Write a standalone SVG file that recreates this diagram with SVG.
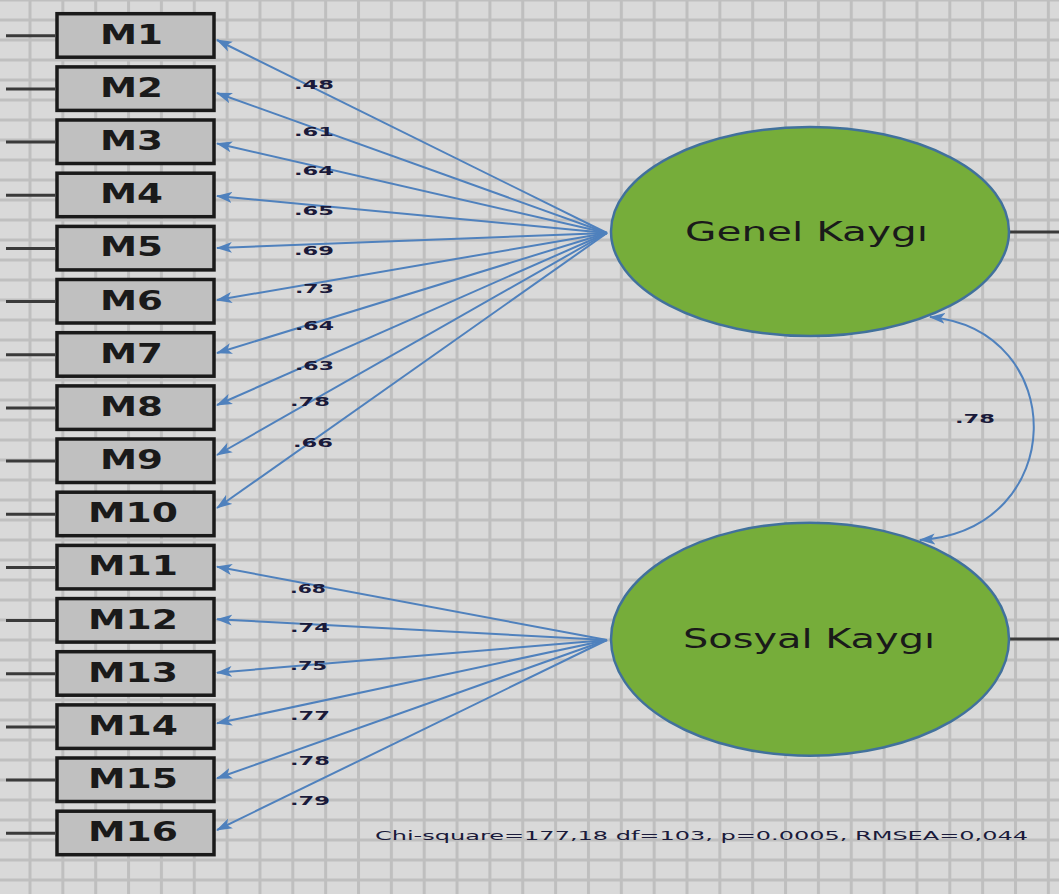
<svg xmlns="http://www.w3.org/2000/svg" width="1059" height="894" viewBox="0 0 1059 894">
<defs>
<pattern id="grid" patternUnits="userSpaceOnUse" x="28.5" y="-1.5" width="32.85" height="20">
<rect width="32.85" height="20" fill="#d9d9d9"/>
<rect width="3" height="20" fill="#bfbfbf"/>
<rect width="32.85" height="3" fill="#bfbfbf"/>
</pattern>
<marker id="ah" markerUnits="userSpaceOnUse" markerWidth="16" markerHeight="12" viewBox="0 0 16 12" refX="15" refY="6" orient="auto-start-reverse">
<path d="M16,6 L0,0.5 L4,6 L0,11.5 z" fill="#4f81bd"/>
</marker>
<style>
.box{fill:#c0c0c0;stroke:#1a1a1a;stroke-width:3.5}
.bt{font-family:"DejaVu Sans","Liberation Sans",sans-serif;font-size:26px;fill:#1a1a1a;}
.bb{font-weight:bold}
.stub{stroke:#3a3a3a;stroke-width:3}
.lat{fill:#76ad3a;stroke:#41719c;stroke-width:2.5}
.ln{stroke:#4f81bd;stroke-width:2;fill:none;marker-end:url(#ah)}
.lb{font-family:"DejaVu Sans","Liberation Sans",sans-serif;font-size:13px;font-weight:bold;fill:#1a1a3a}
.ft{font-family:"DejaVu Sans","Liberation Sans",sans-serif;font-size:13px;fill:#1a1a3a}
</style>
</defs>
<rect x="0" y="0" width="1059" height="894" fill="url(#grid)"/>

<g id="connectors">
<path class="ln" d="M607,233 L217,40"/>
<path class="ln" d="M607,233 L217,93"/>
<path class="ln" d="M607,233 L217,143.5"/>
<path class="ln" d="M607,233 L217,196"/>
<path class="ln" d="M607,233 L217,248"/>
<path class="ln" d="M607,233 L217,300"/>
<path class="ln" d="M607,233 L217,353"/>
<path class="ln" d="M607,233 L217,405"/>
<path class="ln" d="M607,233 L217,455"/>
<path class="ln" d="M607,233 L217,508"/>
<path class="ln" d="M607,640 L217,566.7"/>
<path class="ln" d="M607,640 L217,619.3"/>
<path class="ln" d="M607,640 L217,672.7"/>
<path class="ln" d="M607,640 L217,723.3"/>
<path class="ln" d="M607,640 L217,778.3"/>
<path class="ln" d="M607,640 L217,830"/>
<path class="ln" d="M930,317 C1070,330 1070,530 920,540" marker-start="url(#ah)"/>
<g class="lb">
<text x="294" y="89" textLength="40" lengthAdjust="spacingAndGlyphs">.48</text>
<text x="294" y="136" textLength="40" lengthAdjust="spacingAndGlyphs">.61</text>
<text x="294" y="175" textLength="40" lengthAdjust="spacingAndGlyphs">.64</text>
<text x="294" y="215" textLength="40" lengthAdjust="spacingAndGlyphs">.65</text>
<text x="294" y="255" textLength="40" lengthAdjust="spacingAndGlyphs">.69</text>
<text x="295" y="293" textLength="39" lengthAdjust="spacingAndGlyphs">.73</text>
<text x="295" y="330" textLength="39" lengthAdjust="spacingAndGlyphs">.64</text>
<text x="295" y="370" textLength="39" lengthAdjust="spacingAndGlyphs">.63</text>
<text x="290" y="406" textLength="40" lengthAdjust="spacingAndGlyphs">.78</text>
<text x="293" y="447" textLength="40" lengthAdjust="spacingAndGlyphs">.66</text>
<text x="290" y="593" textLength="36" lengthAdjust="spacingAndGlyphs">.68</text>
<text x="290" y="632" textLength="40" lengthAdjust="spacingAndGlyphs">.74</text>
<text x="290" y="670" textLength="37" lengthAdjust="spacingAndGlyphs">.75</text>
<text x="290" y="720" textLength="40" lengthAdjust="spacingAndGlyphs">.77</text>
<text x="290" y="765" textLength="40" lengthAdjust="spacingAndGlyphs">.78</text>
<text x="290" y="805" textLength="40" lengthAdjust="spacingAndGlyphs">.79</text>
<text x="955" y="423" textLength="40" lengthAdjust="spacingAndGlyphs">.78</text>
</g>
<line class="stub" x1="1010" y1="232" x2="1059" y2="232"/>
<line class="stub" x1="1010" y1="639" x2="1059" y2="639"/>
</g>

<g id="M1"><line class="stub" x1="6" y1="35.7" x2="55" y2="35.7"/><rect class="box" x="57" y="13.7" width="157" height="43.5"/><text class="bt bb" x="100" y="43.7" textLength="63" lengthAdjust="spacingAndGlyphs">M1</text></g>
<g id="M2"><line class="stub" x1="6" y1="88.9" x2="55" y2="88.9"/><rect class="box" x="57" y="66.9" width="157" height="43.5"/><text class="bt bb" x="100" y="96.9" textLength="63" lengthAdjust="spacingAndGlyphs">M2</text></g>
<g id="M3"><line class="stub" x1="6" y1="142" x2="55" y2="142"/><rect class="box" x="57" y="120" width="157" height="43.5"/><text class="bt bb" x="100" y="150" textLength="63" lengthAdjust="spacingAndGlyphs">M3</text></g>
<g id="M4"><line class="stub" x1="6" y1="195.2" x2="55" y2="195.2"/><rect class="box" x="57" y="173.2" width="157" height="43.5"/><text class="bt bb" x="100" y="203.2" textLength="63" lengthAdjust="spacingAndGlyphs">M4</text></g>
<g id="M5"><line class="stub" x1="6" y1="248.4" x2="55" y2="248.4"/><rect class="box" x="57" y="226.4" width="157" height="43.5"/><text class="bt bb" x="100" y="256.4" textLength="63" lengthAdjust="spacingAndGlyphs">M5</text></g>
<g id="M6"><line class="stub" x1="6" y1="301.5" x2="55" y2="301.5"/><rect class="box" x="57" y="279.5" width="157" height="43.5"/><text class="bt bb" x="100" y="309.5" textLength="63" lengthAdjust="spacingAndGlyphs">M6</text></g>
<g id="M7"><line class="stub" x1="6" y1="354.7" x2="55" y2="354.7"/><rect class="box" x="57" y="332.7" width="157" height="43.5"/><text class="bt bb" x="100" y="362.7" textLength="63" lengthAdjust="spacingAndGlyphs">M7</text></g>
<g id="M8"><line class="stub" x1="6" y1="407.9" x2="55" y2="407.9"/><rect class="box" x="57" y="385.9" width="157" height="43.5"/><text class="bt bb" x="100" y="415.9" textLength="63" lengthAdjust="spacingAndGlyphs">M8</text></g>
<g id="M9"><line class="stub" x1="6" y1="461" x2="55" y2="461"/><rect class="box" x="57" y="439" width="157" height="43.5"/><text class="bt bb" x="100" y="469" textLength="63" lengthAdjust="spacingAndGlyphs">M9</text></g>
<g id="M10"><line class="stub" x1="6" y1="514.2" x2="55" y2="514.2"/><rect class="box" x="57" y="492.2" width="157" height="43.5"/><text class="bt bb" x="88" y="522.2" textLength="90" lengthAdjust="spacingAndGlyphs">M10</text></g>
<g id="M11"><line class="stub" x1="6" y1="567.4" x2="55" y2="567.4"/><rect class="box" x="57" y="545.4" width="157" height="43.5"/><text class="bt bb" x="88" y="575.4" textLength="90" lengthAdjust="spacingAndGlyphs">M11</text></g>
<g id="M12"><line class="stub" x1="6" y1="620.6" x2="55" y2="620.6"/><rect class="box" x="57" y="598.6" width="157" height="43.5"/><text class="bt bb" x="88" y="628.6" textLength="90" lengthAdjust="spacingAndGlyphs">M12</text></g>
<g id="M13"><line class="stub" x1="6" y1="673.7" x2="55" y2="673.7"/><rect class="box" x="57" y="651.7" width="157" height="43.5"/><text class="bt bb" x="88" y="681.7" textLength="90" lengthAdjust="spacingAndGlyphs">M13</text></g>
<g id="M14"><line class="stub" x1="6" y1="726.9" x2="55" y2="726.9"/><rect class="box" x="57" y="704.9" width="157" height="43.5"/><text class="bt bb" x="88" y="734.9" textLength="90" lengthAdjust="spacingAndGlyphs">M14</text></g>
<g id="M15"><line class="stub" x1="6" y1="780" x2="55" y2="780"/><rect class="box" x="57" y="758" width="157" height="43.5"/><text class="bt bb" x="88" y="788" textLength="90" lengthAdjust="spacingAndGlyphs">M15</text></g>
<g id="M16"><line class="stub" x1="6" y1="833.2" x2="55" y2="833.2"/><rect class="box" x="57" y="811.2" width="157" height="43.5"/><text class="bt bb" x="88" y="841.2" textLength="90" lengthAdjust="spacingAndGlyphs">M16</text></g>

<g id="GenelKaygi"><ellipse class="lat" cx="810" cy="231.5" rx="199" ry="104.5"/><text class="bt" x="685" y="241" textLength="243" lengthAdjust="spacingAndGlyphs">Genel Kaygı</text></g>
<g id="SosyalKaygi"><ellipse class="lat" cx="810" cy="639.2" rx="199" ry="116.5"/><text class="bt" x="683" y="648" textLength="252" lengthAdjust="spacingAndGlyphs">Sosyal Kaygı</text></g>

<g id="fit"><text class="ft" x="375" y="840" textLength="653" lengthAdjust="spacingAndGlyphs">Chi-square=177,18  df=103, p=0.0005, RMSEA=0,044</text></g>
</svg>
